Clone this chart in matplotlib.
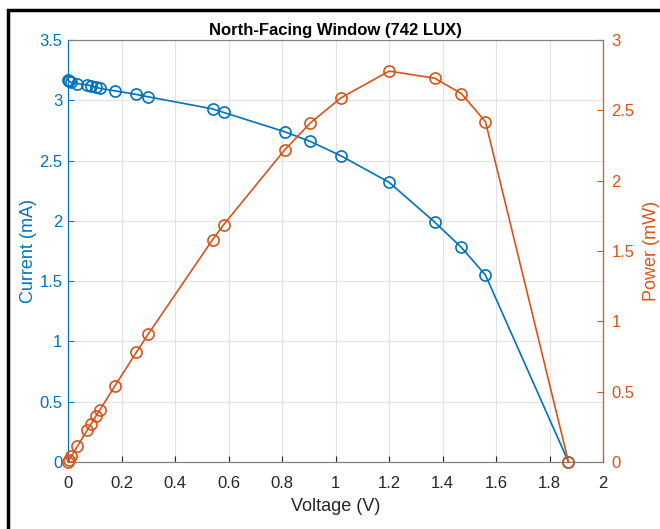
import matplotlib.pyplot as plt
import matplotlib.patches as patches

plt.rcParams['font.family'] = ['Liberation Sans', 'DejaVu Sans']

# Data
voltage = [0, 0.004, 0.012, 0.035, 0.072, 0.086, 0.105, 0.12, 0.175, 0.255, 0.3,
           0.54, 0.582, 0.81, 0.905, 1.02, 1.2, 1.37, 1.47, 1.56, 1.87]
current = [3.17, 3.16, 3.15, 3.14, 3.13, 3.12, 3.11, 3.10, 3.08, 3.05, 3.03,
           2.93, 2.90, 2.74, 2.66, 2.54, 2.32, 1.99, 1.78, 1.55, 0]
power = [0, 0.013, 0.038, 0.11, 0.225, 0.268, 0.327, 0.372, 0.539, 0.778, 0.909,
         1.58, 1.688, 2.22, 2.41, 2.59, 2.78, 2.73, 2.62, 2.42, 0]

blue = '#0072BD'
orange = '#D95319'
dark = '#262626'

fig = plt.figure(figsize=(6.6, 5.29), dpi=100)
ax = fig.add_axes([0.103, 0.127, 0.811, 0.797])
ax2 = ax.twinx()

ax.plot(voltage, current, color=blue, lw=1.2, marker='o', ms=8,
        mfc='none', mec=blue, mew=1.2, clip_on=False, zorder=3)
ax2.plot(voltage, power, color=orange, lw=1.2, marker='o', ms=8,
         mfc='none', mec=orange, mew=1.2, clip_on=False, zorder=3)

ax.set_xlim(0, 2)
ax.set_ylim(0, 3.5)
ax2.set_ylim(0, 3)
ax.set_xticks([0, 0.2, 0.4, 0.6, 0.8, 1, 1.2, 1.4, 1.6, 1.8, 2])
ax.set_xticklabels(['0', '0.2', '0.4', '0.6', '0.8', '1', '1.2', '1.4', '1.6', '1.8', '2'])
ax.set_yticks([0, 0.5, 1, 1.5, 2, 2.5, 3, 3.5])
ax.set_yticklabels(['0', '0.5', '1', '1.5', '2', '2.5', '3', '3.5'])
ax2.set_yticks([0, 0.5, 1, 1.5, 2, 2.5, 3])
ax2.set_yticklabels(['0', '0.5', '1', '1.5', '2', '2.5', '3'])

ax.grid(True, color='#e3e3e3', lw=0.8)
ax.set_axisbelow(True)

ax.tick_params(axis='x', direction='in', colors=dark, labelsize=12, length=4, pad=10)
ax.tick_params(axis='y', direction='in', colors=blue, labelsize=12, length=4, pad=4)
ax2.tick_params(axis='y', direction='in', colors=orange, labelsize=12, length=4, pad=6)

for a in (ax, ax2):
    a.spines['top'].set_color('#808080')
    a.spines['bottom'].set_color('#808080')
    a.spines['left'].set_color(blue)
    a.spines['right'].set_color(orange)
    for s in a.spines.values():
        s.set_linewidth(0.8)

ax.set_xlabel('Voltage (V)', fontsize=13, color=dark, labelpad=5)
ax.set_ylabel('Current (mA)', fontsize=13, color=blue, labelpad=2)
ax2.set_ylabel('Power (mW)', fontsize=13, color=orange, labelpad=6)
ax.set_title('North-Facing Window (742 LUX)', fontsize=12, fontweight='bold', pad=4)

# black frame around the figure (right and bottom edges fall outside)
frame = patches.Rectangle((8 / 660, -0.1), 1.2, 1 - 10 / 529 + 0.1,
                          transform=fig.transFigure, fill=False,
                          edgecolor='black', lw=2.5)
fig.patches.append(frame)

fig.savefig('out.png', dpi=100)
